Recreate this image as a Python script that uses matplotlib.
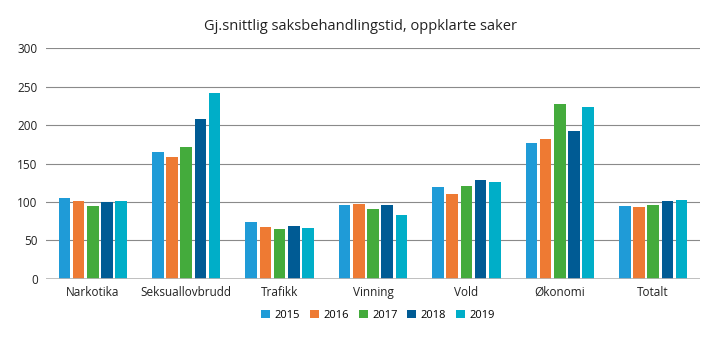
import numpy as np
import matplotlib.pyplot as plt

plt.rcParams['font.family'] = ['Open Sans', 'DejaVu Sans']

# data
categories = ['Narkotika', 'Seksuallovbrudd', 'Trafikk', 'Vinning', 'Vold', 'Økonomi', 'Totalt']
years = ['2015', '2016', '2017', '2018', '2019']
v2015 = [105, 165, 74, 96, 119, 177, 95]
v2016 = [101, 159, 68, 98, 111, 182, 94]
v2017 = [95, 171, 65, 91, 121, 227, 96]
v2018 = [100, 208, 69, 96, 128, 192, 101]
v2019 = [101, 242, 66, 83, 126, 223, 102]
colors = ['#1f9bd7', '#ee7a33', '#44ab3c', '#005b94', '#00aec8']

series = [v2015, v2016, v2017, v2018, v2019]

fig = plt.figure(figsize=(7.2, 3.41), dpi=100)
ax = fig.add_axes([0.064, 0.182, 0.908, 0.677])

x = np.arange(len(categories))
step = 0.152
width = 0.125
for i, (vals, col, yr) in enumerate(zip(series, colors, years)):
    ax.bar(x + (i - 2) * step, vals, width, color=col, label=yr, zorder=3)

ax.set_xlim(-0.5, len(categories) - 0.5)
ax.set_ylim(0, 300)
ax.set_yticks(range(0, 301, 50))
ax.yaxis.grid(True, color='#8a8a8a', linewidth=0.8, zorder=0)
ax.set_xticks(x)
ax.set_xticklabels(categories)
ax.tick_params(axis='both', length=0, labelsize=8.5, colors='#222222')
ax.tick_params(axis='y', pad=6)
ax.tick_params(axis='x', pad=5)
for s in ax.spines.values():
    s.set_visible(False)
ax.axhline(0, color='#b5b5b5', linewidth=1.2, zorder=4)

fig.suptitle('Gj.snittlig saksbehandlingstid, oppklarte saker', y=0.945, fontsize=10.5, color='#222222')
fig.legend(loc='center', bbox_to_anchor=(0.525, 0.075), ncol=5, frameon=False, fontsize=8,
           handlelength=0.8, handleheight=0.8, handletextpad=0.4, columnspacing=0.9)

fig.savefig('out.png', dpi=100)
